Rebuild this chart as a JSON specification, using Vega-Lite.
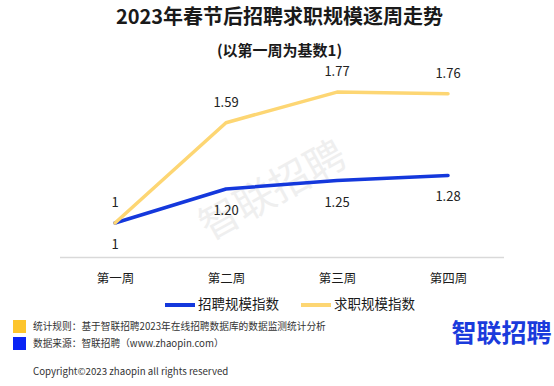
{
  "$schema": "https://vega.github.io/schema/vega-lite/v6.json",
  "width": 444,
  "height": 187,
  "autosize": {"type": "none"},
  "padding": {"left": 59.5, "top": 70, "right": 50.5, "bottom": 129},
  "background": "white",
  "config": {"view": {"stroke": null}, "font": "Noto Sans CJK SC"},
  "title": {
    "text": "2023年春节后招聘求职规模逐周走势",
    "subtitle": "(以第一周为基数1)",
    "anchor": "middle",
    "frame": "group",
    "fontSize": 20,
    "fontWeight": "bold",
    "color": "#1a1a1a",
    "subtitleFontSize": 15,
    "subtitleFontWeight": "bold",
    "subtitleColor": "#1a1a1a",
    "subtitlePadding": 16,
    "offset": 7,
    "dx": -2
  },
  "data": {
    "values": [
      {"week": "第一周", "series": "招聘规模指数", "value": 1.0, "label": "1"},
      {"week": "第二周", "series": "招聘规模指数", "value": 1.2, "label": "1.20"},
      {"week": "第三周", "series": "招聘规模指数", "value": 1.25, "label": "1.25"},
      {"week": "第四周", "series": "招聘规模指数", "value": 1.28, "label": "1.28"},
      {"week": "第一周", "series": "求职规模指数", "value": 1.0, "label": "1"},
      {"week": "第二周", "series": "求职规模指数", "value": 1.59, "label": "1.59"},
      {"week": "第三周", "series": "求职规模指数", "value": 1.77, "label": "1.77"},
      {"week": "第四周", "series": "求职规模指数", "value": 1.76, "label": "1.76"}
    ]
  },
  "encoding": {
    "x": {
      "field": "week",
      "type": "ordinal",
      "sort": ["第一周", "第二周", "第三周", "第四周"],
      "scale": {"type": "point", "padding": 0.5},
      "axis": {
        "title": null,
        "labelAngle": 0,
        "ticks": false,
        "grid": false,
        "domainColor": "#d9d9d9",
        "domainWidth": 1.5,
        "labelFontSize": 12.5,
        "labelColor": "#1a1a1a",
        "labelPadding": 15
      }
    },
    "y": {
      "field": "value",
      "type": "quantitative",
      "scale": {"domain": [0.8, 1.9]},
      "axis": null
    }
  },
  "layer": [
    {
      "data": {"values": [{"t": "智联招聘"}]},
      "mark": {"type": "text", "angle": 331, "fontSize": 40, "color": "#efefef", "align": "center", "baseline": "middle", "x": 214, "y": 122},
      "encoding": {"x": null, "y": null, "text": {"field": "t"}}
    },
    {
      "mark": {"type": "line", "strokeWidth": 3.5, "strokeCap": "round", "strokeJoin": "round"},
      "encoding": {
        "color": {
          "field": "series",
          "type": "nominal",
          "scale": {"domain": ["招聘规模指数", "求职规模指数"], "range": ["#1438dc", "#fdd673"]},
          "legend": {
            "title": null,
            "orient": "none",
            "legendX": 103.5,
            "legendY": 218,
            "direction": "horizontal",
            "symbolType": "stroke",
            "symbolStrokeWidth": 4,
            "symbolSize": 900,
            "labelFontSize": 13.5,
            "labelColor": "#1a1a1a",
            "labelOffset": 1,
            "columnPadding": 14
          }
        }
      }
    },
    {
      "transform": [{"filter": "datum.series === '求职规模指数'"}],
      "mark": {"type": "text", "dy": -20, "fontSize": 13, "color": "#222222"},
      "encoding": {"text": {"field": "label"}}
    },
    {
      "transform": [{"filter": "datum.series === '招聘规模指数'"}],
      "mark": {"type": "text", "dy": 22, "fontSize": 13, "color": "#222222"},
      "encoding": {"text": {"field": "label"}}
    },
    {
      "data": {"values": [
        {"note": "统计规则：基于智联招聘2023年在线招聘数据库的数据监测统计分析"},
        {"note": "数据来源：智联招聘（www.zhaopin.com）"}
      ]},
      "mark": {"type": "point", "shape": "square", "filled": true, "opacity": 0},
      "encoding": {
        "x": null,
        "y": null,
        "fill": {
          "field": "note",
          "type": "nominal",
          "scale": {"domain": ["统计规则：基于智联招聘2023年在线招聘数据库的数据监测统计分析", "数据来源：智联招聘（www.zhaopin.com）"], "range": ["#fdc52c", "#0a24f5"]},
          "legend": {
            "title": null,
            "orient": "none",
            "legendX": -46.5,
            "legendY": 250,
            "direction": "vertical",
            "symbolType": "square",
            "symbolSize": 169,
            "symbolStrokeWidth": 0,
            "symbolOpacity": 1,
            "labelFontSize": 9.7,
            "labelColor": "#333333",
            "labelOffset": 7,
            "rowPadding": 4,
            "labelLimit": 400
          }
        }
      }
    },
    {
      "data": {"values": [{"t": "智联招聘"}]},
      "mark": {"type": "text", "fontSize": 25, "fontWeight": "bold", "color": "#1a3bdc", "align": "left", "baseline": "middle", "x": 392, "y": 264},
      "encoding": {"x": null, "y": null, "text": {"field": "t"}}
    },
    {
      "data": {"values": [{"t": "Copyright©2023 zhaopin all rights reserved"}]},
      "mark": {"type": "text", "fontSize": 9.7, "color": "#333333", "align": "left", "baseline": "middle", "x": -26.5, "y": 302},
      "encoding": {"x": null, "y": null, "text": {"field": "t"}}
    },
    {
      "data": {"values": [{"t": 1}]},
      "mark": {"type": "rule", "color": "#888888", "strokeWidth": 1.2, "x": -51.5, "x2": 488.5, "y": 289},
      "encoding": {"x": null, "y": null}
    }
  ]
}
